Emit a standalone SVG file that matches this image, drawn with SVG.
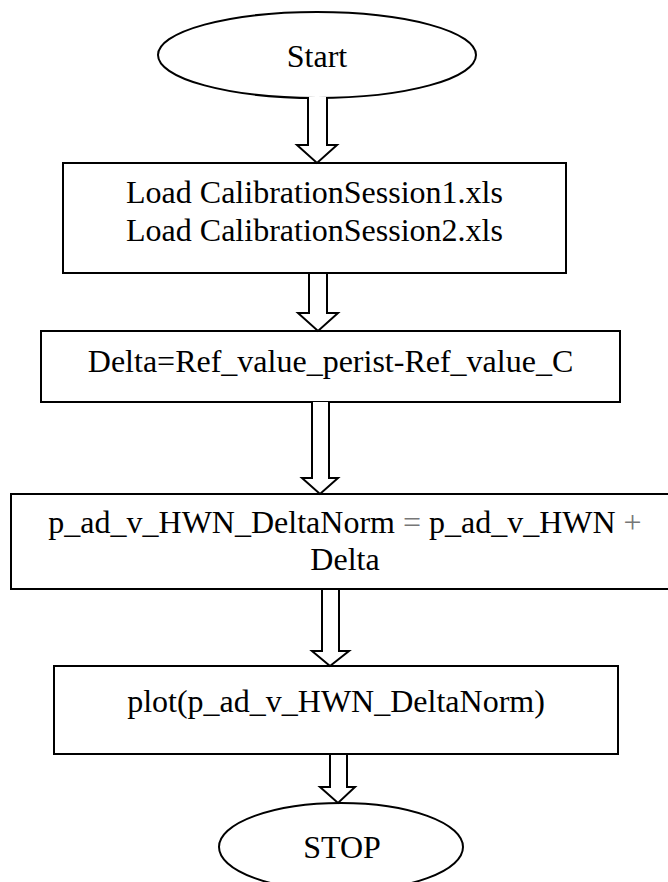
<svg xmlns="http://www.w3.org/2000/svg" width="668" height="882" viewBox="0 0 668 882">
  <style>
    .shape { fill: #ffffff; stroke: #000000; stroke-width: 2; }
    .arrow { fill: #ffffff; stroke: #000000; stroke-width: 2; stroke-linejoin: miter; }
    .label { font-family: "Liberation Serif", Tinos, "DejaVu Serif", serif; font-size: 32px; fill: #000000; text-anchor: middle; }
    .op { fill: #777777; }
  </style>
  <rect width="668" height="882" fill="#ffffff"/>

  <g id="start">
    <ellipse class="shape" cx="317" cy="55" rx="159" ry="43"/>
    <text class="label" x="317" y="67">Start</text>
  </g>

  <g id="load">
    <rect class="shape" x="63" y="163" width="503" height="110"/>
    <text class="label" x="314.5" y="203">Load CalibrationSession1.xls</text>
    <text class="label" x="314.5" y="241">Load CalibrationSession2.xls</text>
  </g>

  <g id="delta">
    <rect class="shape" x="41" y="331" width="579" height="71"/>
    <text class="label" x="330.5" y="372">Delta=Ref_value_perist-Ref_value_C</text>
  </g>

  <g id="normalize">
    <rect class="shape" x="11" y="494" width="680" height="95"/>
    <text class="label" x="345" y="533">p_ad_v_HWN_DeltaNorm <tspan class="op">=</tspan> p_ad_v_HWN <tspan class="op">+</tspan></text>
    <text class="label" x="345" y="570">Delta</text>
  </g>

  <g id="plot">
    <rect class="shape" x="54" y="666" width="564" height="88"/>
    <text class="label" x="336" y="712">plot(p_ad_v_HWN_DeltaNorm)</text>
  </g>

  <g id="stop">
    <ellipse class="shape" cx="341" cy="847" rx="122" ry="44"/>
    <text class="label" x="342" y="858">STOP</text>
  </g>

  <!-- hollow block arrows between the steps -->
  <g id="connectors">
    <polyline class="arrow" points="308,97 308,145 297,145 317,163 337,145 327,145 327,97"/>
    <polyline class="arrow" points="309,274 309,313 298,313 318,331 338,313 327,313 327,274"/>
    <polyline class="arrow" points="312,402 312,478 302,478 320,494 338,478 329,478 329,402"/>
    <polyline class="arrow" points="322,590 322,651 312,651 330,666 349,651 339,651 339,590"/>
    <polyline class="arrow" points="330,755 330,787 320,787 338,803 355,787 347,787 347,755"/>
  </g>
</svg>
